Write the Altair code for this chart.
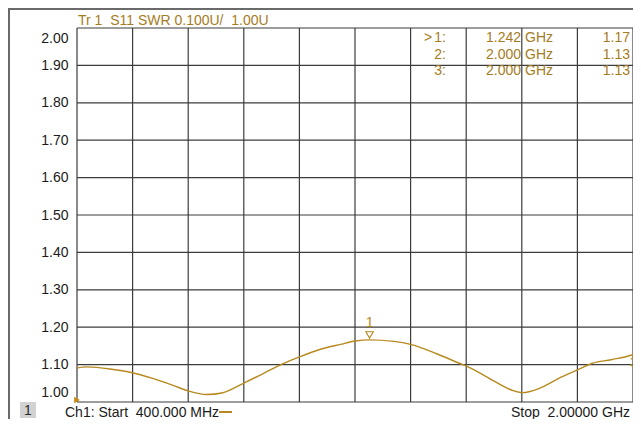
import altair as alt
import pandas as pd

# ---- data ----
freq_ghz = [0.400, 0.428, 0.504, 0.556, 0.618, 0.675, 0.722, 0.774, 0.817, 0.883,
            0.940, 0.987, 1.044, 1.101, 1.158, 1.201, 1.242, 1.312, 1.360, 1.435,
            1.502, 1.521, 1.596, 1.653, 1.682, 1.729, 1.786, 1.843, 1.881, 1.937,
            1.994, 2.000]
swr = [1.091, 1.094, 1.087, 1.079, 1.063, 1.045, 1.029, 1.020, 1.024, 1.052,
       1.078, 1.100, 1.122, 1.141, 1.154, 1.163, 1.166, 1.162, 1.154, 1.129,
       1.103, 1.096, 1.058, 1.031, 1.025, 1.036, 1.063, 1.087, 1.103, 1.113,
       1.125, 1.127]

y_ticks = [1.00, 1.10, 1.20, 1.30, 1.40, 1.50, 1.60, 1.70, 1.80, 1.90, 2.00]
x_grid = [0.40, 0.56, 0.72, 0.88, 1.04, 1.20, 1.36, 1.52, 1.68, 1.84, 2.00]

marker_ids = ["1", "2", "3"]
marker_freq = ["1.242", "2.000", "2.000"]
marker_val = ["1.17", "1.13", "1.13"]
marker1_f = 1.242
marker1_v = 1.166

header = "Tr 1\u00a0\u00a0S11 SWR 0.100U/\u00a0\u00a01.00U"
start_txt = "Ch1: Start\u00a0\u00a0400.000 MHz"
stop_txt = "Stop\u00a0\u00a02.00000 GHz"

# ---- styles ----
FONT = "Liberation Sans, Arial, sans-serif"
FS = 14
GOLD = "#A67C22"
TRACE = "#B8891F"
GRID = "#3c3c3c"
W, H = 556, 374

xs = alt.Scale(domain=[0.4, 2.0], nice=False, zero=False)
ys = alt.Scale(domain=[1.0, 2.0], nice=False, zero=False)
XAX = alt.Axis(values=x_grid, grid=False, labels=False, ticks=False,
               domain=False, title=None)
YAX = alt.Axis(values=y_ticks, grid=False, format=".2f", ticks=False,
               domain=False, title=None, labelPadding=9, labelOverlap=False,
               labelFlush=True, labelFlushOffset=-3,
               labelFont=FONT, labelFontSize=FS, labelColor="#1a1a1a")


def X(field):
    return alt.X(field, scale=xs, axis=XAX)


def Y(field):
    return alt.Y(field, scale=ys, axis=YAX)


df = pd.DataFrame({"f": freq_ghz, "swr": swr})


def txt(t, x, y, align="left", color=GOLD, size=FS):
    return alt.Chart(pd.DataFrame({"t": [t]})).mark_text(
        align=align, baseline="alphabetic", font=FONT, fontSize=size, color=color
    ).encode(x=alt.value(x), y=alt.value(y), text="t:N")


# grid rules (every 0.1 SWR and every 160 MHz)
grid_y = alt.Chart(pd.DataFrame({"v": y_ticks})).mark_rule(color=GRID, strokeWidth=1.2).encode(
    y=Y("v:Q"))
grid_x = alt.Chart(pd.DataFrame({"v": x_grid})).mark_rule(color=GRID, strokeWidth=1.2).encode(
    x=X("v:Q"))
trace = alt.Chart(df).mark_line(color=TRACE, strokeWidth=1.4, interpolate="monotone").encode(
    x=X("f:Q"), y=Y("swr:Q"))

layers = [grid_y, grid_x, trace]

# marker 1
mk = pd.DataFrame({"f": [marker1_f], "swr": [marker1_v], "t": ["1"]})
layers.append(alt.Chart(mk).mark_point(shape="triangle-down", filled=False, size=55,
                                       color=TRACE, strokeWidth=1.1, opacity=1)
              .encode(x=X("f:Q"), y=Y("swr:Q"), yOffset=alt.value(-5)))
layers.append(alt.Chart(mk).mark_text(font=FONT, fontSize=FS, color=TRACE,
                                      baseline="alphabetic", dy=-13)
              .encode(x=X("f:Q"), y=Y("swr:Q"), text="t:N"))

# marker 3 at the stop edge (clipped)
mk3 = pd.DataFrame({"f": [2.0], "swr": [1.13], "t": ["3"]})
layers.append(alt.Chart(mk3).mark_text(font=FONT, fontSize=FS, color=TRACE,
                                       baseline="alphabetic", align="left", dx=-3, dy=14)
              .encode(x=X("f:Q"), y=Y("swr:Q"), text="t:N"))

# reference level arrow
ref = pd.DataFrame({"f": [0.4], "swr": [1.0]})
layers.append(alt.Chart(ref).mark_point(shape="triangle-right", filled=True, size=45,
                                        color="#C98A10", opacity=1)
              .encode(x=X("f:Q"), y=Y("swr:Q"), yOffset=alt.value(-2)))

# header
layers.append(txt(header, 1, -3))

# marker table
for i, (mid, mf, mv) in enumerate(zip(marker_ids, marker_freq, marker_val)):
    yy = 14 + i * 16.5
    if i == 0:
        layers.append(txt(">", 347, yy))
    layers.append(txt(mid + ":", 369, yy, align="right"))
    layers.append(txt(mf, 444, yy, align="right"))
    layers.append(txt("GHz", 448, yy))
    layers.append(txt(mv, 553, yy, align="right"))

# bottom channel line
layers.append(alt.Chart(pd.DataFrame({"a": [0]})).mark_rect(color="#D2D2D2").encode(
    x=alt.value(-57), x2=alt.value(-41), y=alt.value(374), y2=alt.value(390)))
layers.append(txt("1", -49, 387, align="center", color="#2a2a2a"))
layers.append(txt(start_txt, -12, 389, color="#1a1a1a"))
layers.append(alt.Chart(pd.DataFrame({"a": [0]})).mark_rule(color=TRACE, strokeWidth=2).encode(
    x=alt.value(142), x2=alt.value(155), y=alt.value(384)))
layers.append(txt(stop_txt, 553, 389, align="right", color="#1a1a1a"))

# window frame edges
layers.append(alt.Chart(pd.DataFrame({"a": [0]})).mark_rule(color="#6a6a6a", strokeWidth=2).encode(
    x=alt.value(-69), x2=alt.value(W), y=alt.value(-19)))
layers.append(alt.Chart(pd.DataFrame({"a": [0]})).mark_rule(color="#6a6a6a", strokeWidth=2).encode(
    x=alt.value(-68), y=alt.value(-20), y2=alt.value(H + 17)))

chart = alt.layer(*layers).properties(
    width=W, height=H,
    autosize=alt.AutoSizeParams(type="none"),
    padding={"left": 69, "top": 20, "right": 0, "bottom": 17},
    background="white",
).configure_view(stroke=None)

chart.save("out.html", embed_options={"renderer": "svg", "actions": False})
